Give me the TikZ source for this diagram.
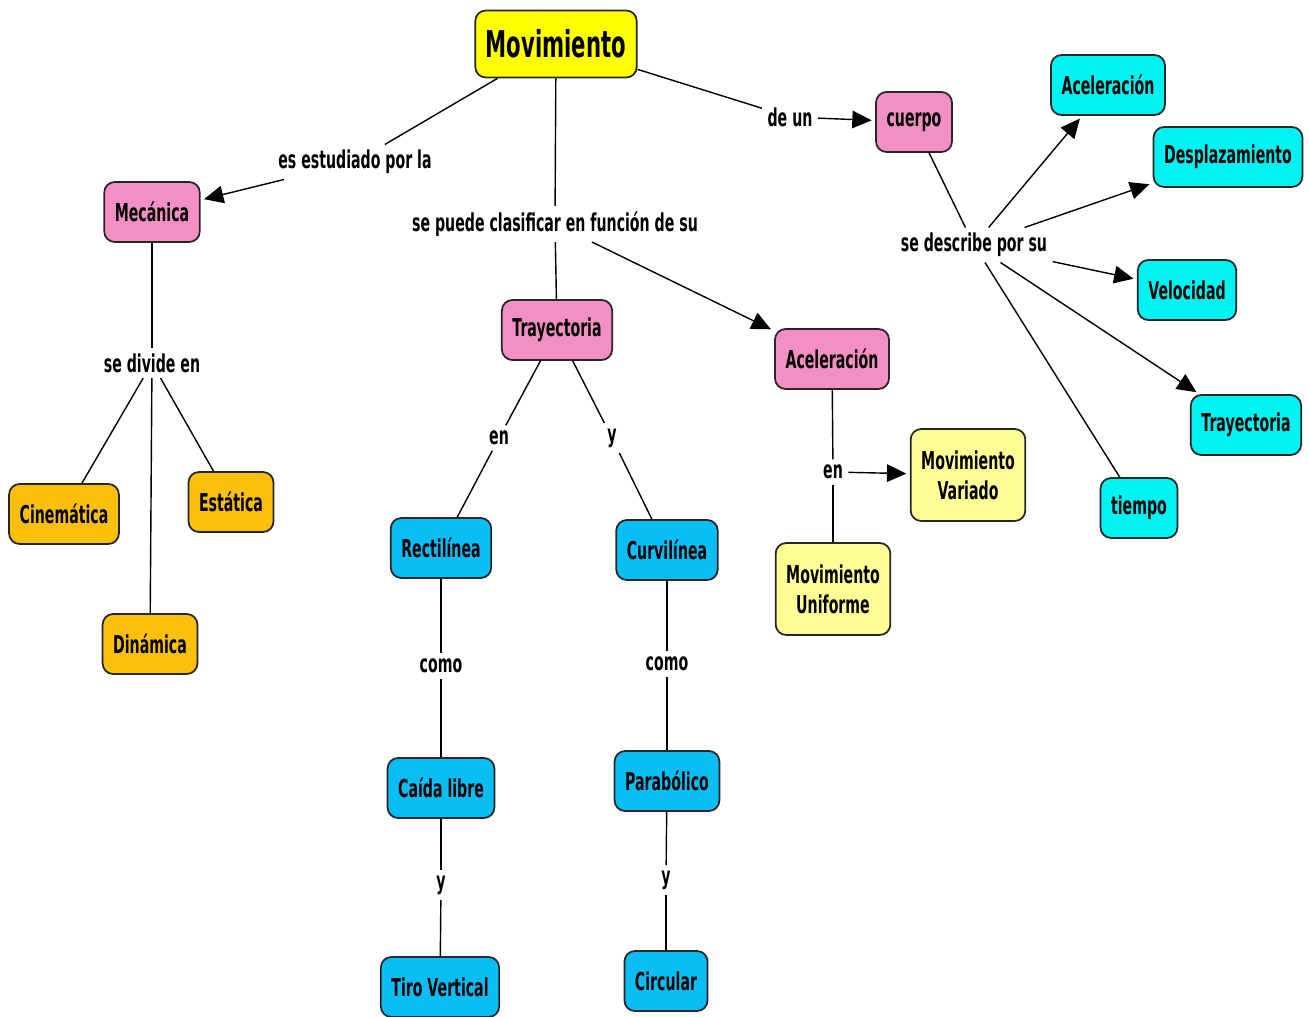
\documentclass[tikz,border=0pt]{standalone}
\usepackage{fontspec}
\newfontfamily\cmapfont{DejaVu Sans}[FakeStretch=0.575]
\usetikzlibrary{arrows.meta}

\definecolor{cmapyellow}{RGB}{255,255,0}
\definecolor{cmappink}{RGB}{244,143,196}
\definecolor{cmaporange}{RGB}{251,191,14}
\definecolor{cmapblue}{RGB}{10,190,245}
\definecolor{cmapcyan}{RGB}{0,242,242}
\definecolor{cmaplight}{RGB}{255,255,150}

\begin{document}
\begin{tikzpicture}[x=0.02cm, y=-0.02cm,
	concept/.style={draw=black!85, line width=1pt, rounded corners=6pt, minimum height=1.2cm, inner xsep=6pt, align=center, font=\cmapfont\bfseries\fontsize{14}{17}\selectfont},
	linking/.style={inner sep=3pt, align=center, font=\cmapfont\bfseries\fontsize{14}{17}\selectfont},
	link/.style={line width=0.8pt},
	arrowlink/.style={link, -{Triangle[length=11pt,width=10pt]}, shorten >=2pt}]

	\useasboundingbox (0,0) rectangle (1309,1017);

	% draw concepts
	\node[concept, fill=cmapyellow, minimum height=1.34cm, font=\cmapfont\bfseries\fontsize{21}{24}\selectfont] (mov) at (556,44) {Movimiento};
	\node[concept, fill=cmappink] (mec) at (152,212) {Mecánica};
	\node[concept, fill=cmappink] (cuerpo) at (914,122) {cuerpo};
	\node[concept, fill=cmappink] (tray) at (557,330) {Trayectoria};
	\node[concept, fill=cmappink] (acel) at (832,359) {Aceleración};

	\node[concept, fill=cmaporange] (cine) at (64,514) {Cinemática};
	\node[concept, fill=cmaporange] (esta) at (231,502) {Estática};
	\node[concept, fill=cmaporange] (dina) at (150,644) {Dinámica};

	\node[concept, fill=cmapblue] (recti) at (441,548) {Rectilínea};
	\node[concept, fill=cmapblue] (curvi) at (667,550) {Curvilínea};
	\node[concept, fill=cmapblue] (caida) at (441,788) {Caída libre};
	\node[concept, fill=cmapblue] (parab) at (667,781) {Parabólico};
	\node[concept, fill=cmapblue] (tiro) at (440,987) {Tiro Vertical};
	\node[concept, fill=cmapblue] (circ) at (666,981) {Circular};

	\node[concept, fill=cmaplight, minimum height=1.84cm] (movvar) at (968,475) {Movimiento\\Variado};
	\node[concept, fill=cmaplight, minimum height=1.84cm] (movuni) at (833,589) {Movimiento\\Uniforme};

	\node[concept, fill=cmapcyan] (cacel) at (1108,85) {Aceleración};
	\node[concept, fill=cmapcyan] (cdesp) at (1228,157) {Desplazamiento};
	\node[concept, fill=cmapcyan] (cvel) at (1187,290) {Velocidad};
	\node[concept, fill=cmapcyan] (ctray) at (1246,425) {Trayectoria};
	\node[concept, fill=cmapcyan] (ctiempo) at (1139,508) {tiempo};

	% draw linking phrases
	\node[linking] (lestud) at (355,162) {es estudiado por la};
	\node[linking] (lclasif) at (555,224) {se puede clasificar en función de su};
	\node[linking] (ldeun) at (790,117) {de un};
	\node[linking] (ldivide) at (152,363) {se divide en};
	\node[linking] (lentray) at (499,438) {en};
	\node[linking] (lytray) at (612,438) {y};
	\node[linking] (lenacel) at (833,472) {en};
	\node[linking] (lcomor) at (441,666) {como};
	\node[linking] (lcomoc) at (667,664) {como};
	\node[linking] (lyr) at (441,885) {y};
	\node[linking] (lyc) at (666,880) {y};
	\node[linking] (ldescr) at (974,245) {se describe por su};

	% draw connectors of Movimiento
	\draw[link] (mov) -- (lestud);
	\draw[arrowlink] (lestud) -- (mec);
	\draw[link] (mov) -- (lclasif);
	\draw[link] (lclasif) -- (tray);
	\draw[arrowlink] (lclasif) -- (acel);
	\draw[link] (mov) -- (ldeun);
	\draw[arrowlink] (ldeun) -- (cuerpo);

	% draw Mecanica branch
	\draw[link] (mec) -- (ldivide);
	\draw[link] (ldivide) -- (cine);
	\draw[link] (ldivide) -- (dina);
	\draw[link] (ldivide) -- (esta);

	% draw Trayectoria branch
	\draw[link] (tray) -- (lentray);
	\draw[link] (lentray) -- (recti);
	\draw[link] (tray) -- (lytray);
	\draw[link] (lytray) -- (curvi);
	\draw[link] (recti) -- (lcomor);
	\draw[link] (lcomor) -- (caida);
	\draw[link] (caida) -- (lyr);
	\draw[link] (lyr) -- (tiro);
	\draw[link] (curvi) -- (lcomoc);
	\draw[link] (lcomoc) -- (parab);
	\draw[link] (parab) -- (lyc);
	\draw[link] (lyc) -- (circ);

	% draw Aceleracion branch
	\draw[link] (acel) -- (lenacel);
	\draw[link] (lenacel) -- (movuni);
	\draw[arrowlink] (lenacel) -- (movvar);

	% draw cuerpo branch
	\draw[link] (cuerpo) -- (ldescr);
	\draw[arrowlink] (ldescr) -- (cacel);
	\draw[arrowlink] (ldescr) -- (cdesp);
	\draw[arrowlink] (ldescr) -- (cvel);
	\draw[arrowlink] (ldescr) -- (ctray);
	\draw[link] (ldescr) -- (ctiempo);
\end{tikzpicture}
\end{document}
